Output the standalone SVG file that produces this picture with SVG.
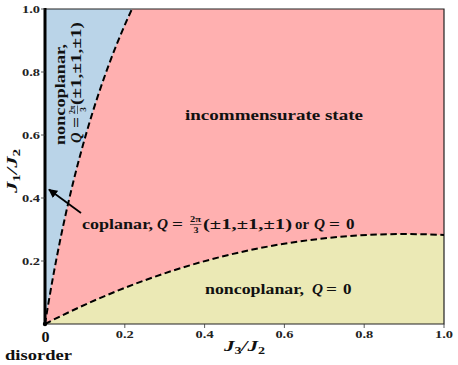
<svg xmlns="http://www.w3.org/2000/svg" width="458" height="365" viewBox="0 0 458 365">
<style>
.t{font-family:"Liberation Serif","Times New Roman",serif;font-weight:bold;font-size:15px;fill:#111}
.mi{font-style:italic}
.tick{font-family:"Liberation Serif","Times New Roman",serif;font-weight:bold;font-size:10px;fill:#222}
.fr{font-size:8px}
.dash{fill:none;stroke:#000;stroke-width:2;stroke-dasharray:6.5 3.5}
.tk{stroke:#333;stroke-width:0.8}
</style>
<defs>
<marker id="ah" viewBox="0 0 10 10" refX="9" refY="5" markerWidth="5" markerHeight="5" orient="auto" markerUnits="strokeWidth">
<path d="M0,0 L10,5 L0,10 Z" fill="#000"/>
</marker>
</defs>
<rect width="458" height="365" fill="#fff"/>
<g id="regions">
<rect id="region-incommensurate" x="45" y="9" width="399" height="315" fill="#ffb0b0"/>
<path id="region-noncoplanar-top" d="M45,324 C60,230 85,110 132,9 L45,9 Z" fill="#bad4e8"/>
<path id="region-noncoplanar-bottom" d="M45,324 C170,260 300,228 444,235 L444,324 Z" fill="#ebe9b5"/>
</g>
<g id="axes">
<path d="M45,9 H444 V324 H45" fill="none" stroke="#222" stroke-width="1.2"/>
<line x1="45" y1="8" x2="45" y2="325" stroke="#000" stroke-width="3"/>
<circle cx="45" cy="324" r="2.2" fill="#000"/>
<g class="tk">
<line x1="41" y1="9" x2="45" y2="9"/>
<line x1="41" y1="72" x2="45" y2="72"/>
<line x1="41" y1="135" x2="45" y2="135"/>
<line x1="41" y1="198" x2="45" y2="198"/>
<line x1="41" y1="261" x2="45" y2="261"/>
<line x1="124.8" y1="324" x2="124.8" y2="328"/>
<line x1="204.6" y1="324" x2="204.6" y2="328"/>
<line x1="284.4" y1="324" x2="284.4" y2="328"/>
<line x1="364.2" y1="324" x2="364.2" y2="328"/>
<line x1="444" y1="324" x2="444" y2="328"/>
</g>
<g class="tick">
<text x="22" y="13" textLength="18" lengthAdjust="spacingAndGlyphs">1.0</text>
<text x="22" y="76" textLength="18" lengthAdjust="spacingAndGlyphs">0.8</text>
<text x="22" y="139" textLength="18" lengthAdjust="spacingAndGlyphs">0.6</text>
<text x="22" y="202" textLength="18" lengthAdjust="spacingAndGlyphs">0.4</text>
<text x="22" y="265" textLength="18" lengthAdjust="spacingAndGlyphs">0.2</text>
<text x="115.8" y="338" textLength="18" lengthAdjust="spacingAndGlyphs">0.2</text>
<text x="195.6" y="338" textLength="18" lengthAdjust="spacingAndGlyphs">0.4</text>
<text x="275.4" y="338" textLength="18" lengthAdjust="spacingAndGlyphs">0.6</text>
<text x="355.2" y="338" textLength="18" lengthAdjust="spacingAndGlyphs">0.8</text>
<text x="435" y="338" textLength="18" lengthAdjust="spacingAndGlyphs">1.0</text>
</g>
<text class="t" x="41.5" y="342" font-size="12.5" textLength="8" lengthAdjust="spacingAndGlyphs">0</text>
<g id="xlabel"><text class="t" x="224" y="351" textLength="41" lengthAdjust="spacingAndGlyphs"><tspan class="mi">J</tspan><tspan font-size="10" dy="3">3</tspan><tspan class="mi" dy="-3">/</tspan><tspan class="mi">J</tspan><tspan font-size="10" dy="3">2</tspan></text></g>
<g id="ylabel" transform="translate(17,193) rotate(-90)"><text class="t" x="0" y="0" textLength="44" lengthAdjust="spacingAndGlyphs"><tspan class="mi">J</tspan><tspan font-size="10" dy="3">1</tspan><tspan class="mi" dy="-3">/</tspan><tspan class="mi">J</tspan><tspan font-size="10" dy="3">2</tspan></text></g>
</g>
<g id="connectors">
<path id="boundary-upper" class="dash" d="M45,324 C60,230 85,110 132,9"/>
<path id="boundary-lower" class="dash" d="M45,324 C170,260 300,228 444,235"/>
<line id="arrow-coplanar" x1="81" y1="213" x2="49" y2="189.5" stroke="#000" stroke-width="1.8" marker-end="url(#ah)"/>
</g>
<g id="label-incommensurate"><text class="t" x="185" y="120" textLength="178" lengthAdjust="spacingAndGlyphs">incommensurate state</text></g>
<g id="label-noncoplanar-bottom">
<text class="t" x="205" y="294" textLength="99" lengthAdjust="spacingAndGlyphs">noncoplanar,</text>
<text class="t mi" x="312" y="294" textLength="11" lengthAdjust="spacingAndGlyphs">Q</text>
<text class="t" x="326" y="294" textLength="11" lengthAdjust="spacingAndGlyphs">=</text>
<text class="t" x="343" y="294" textLength="8.5" lengthAdjust="spacingAndGlyphs">0</text>
</g>
<g id="label-coplanar">
<text class="t" x="82" y="229" textLength="71" lengthAdjust="spacingAndGlyphs">coplanar,</text>
<text class="t mi" x="157" y="229" textLength="11" lengthAdjust="spacingAndGlyphs">Q</text>
<text class="t" x="172" y="229" textLength="11" lengthAdjust="spacingAndGlyphs">=</text>
<text class="t fr" x="190" y="222" textLength="11" lengthAdjust="spacingAndGlyphs">2π</text>
<line x1="190" y1="224.5" x2="201.5" y2="224.5" stroke="#111" stroke-width="0.6"/>
<text class="t fr" x="193.5" y="233" textLength="5" lengthAdjust="spacingAndGlyphs">3</text>
<text class="t" x="203" y="229" textLength="89" lengthAdjust="spacingAndGlyphs">(±1,±1,±1)</text>
<text class="t" x="295" y="229" textLength="14" lengthAdjust="spacingAndGlyphs">or</text>
<text class="t mi" x="314" y="229" textLength="11" lengthAdjust="spacingAndGlyphs">Q</text>
<text class="t" x="329" y="229" textLength="11" lengthAdjust="spacingAndGlyphs">=</text>
<text class="t" x="346" y="229" textLength="8.5" lengthAdjust="spacingAndGlyphs">0</text>
</g>
<g id="label-noncoplanar-top">
<g transform="translate(65,145) rotate(-90)"><text class="t" x="0" y="0" textLength="101" lengthAdjust="spacingAndGlyphs">noncoplanar,</text></g>
<g transform="translate(81,143) rotate(-90)">
<text class="t mi" x="0" y="0" textLength="10.5" lengthAdjust="spacingAndGlyphs">Q</text>
<text class="t" x="15" y="0" textLength="11" lengthAdjust="spacingAndGlyphs">=</text>
<text class="t fr" x="29" y="-6" textLength="8.5" lengthAdjust="spacingAndGlyphs">2π</text>
<line x1="29" y1="-3.5" x2="37.5" y2="-3.5" stroke="#111" stroke-width="0.6"/>
<text class="t fr" x="31.2" y="4.5" textLength="4.5" lengthAdjust="spacingAndGlyphs">3</text>
<text class="t" x="38" y="0" textLength="83" lengthAdjust="spacingAndGlyphs">(±1,±1,±1)</text>
</g>
</g>
<g id="label-disorder"><text class="t" x="5" y="360" textLength="67" lengthAdjust="spacingAndGlyphs">disorder</text></g>
</svg>
